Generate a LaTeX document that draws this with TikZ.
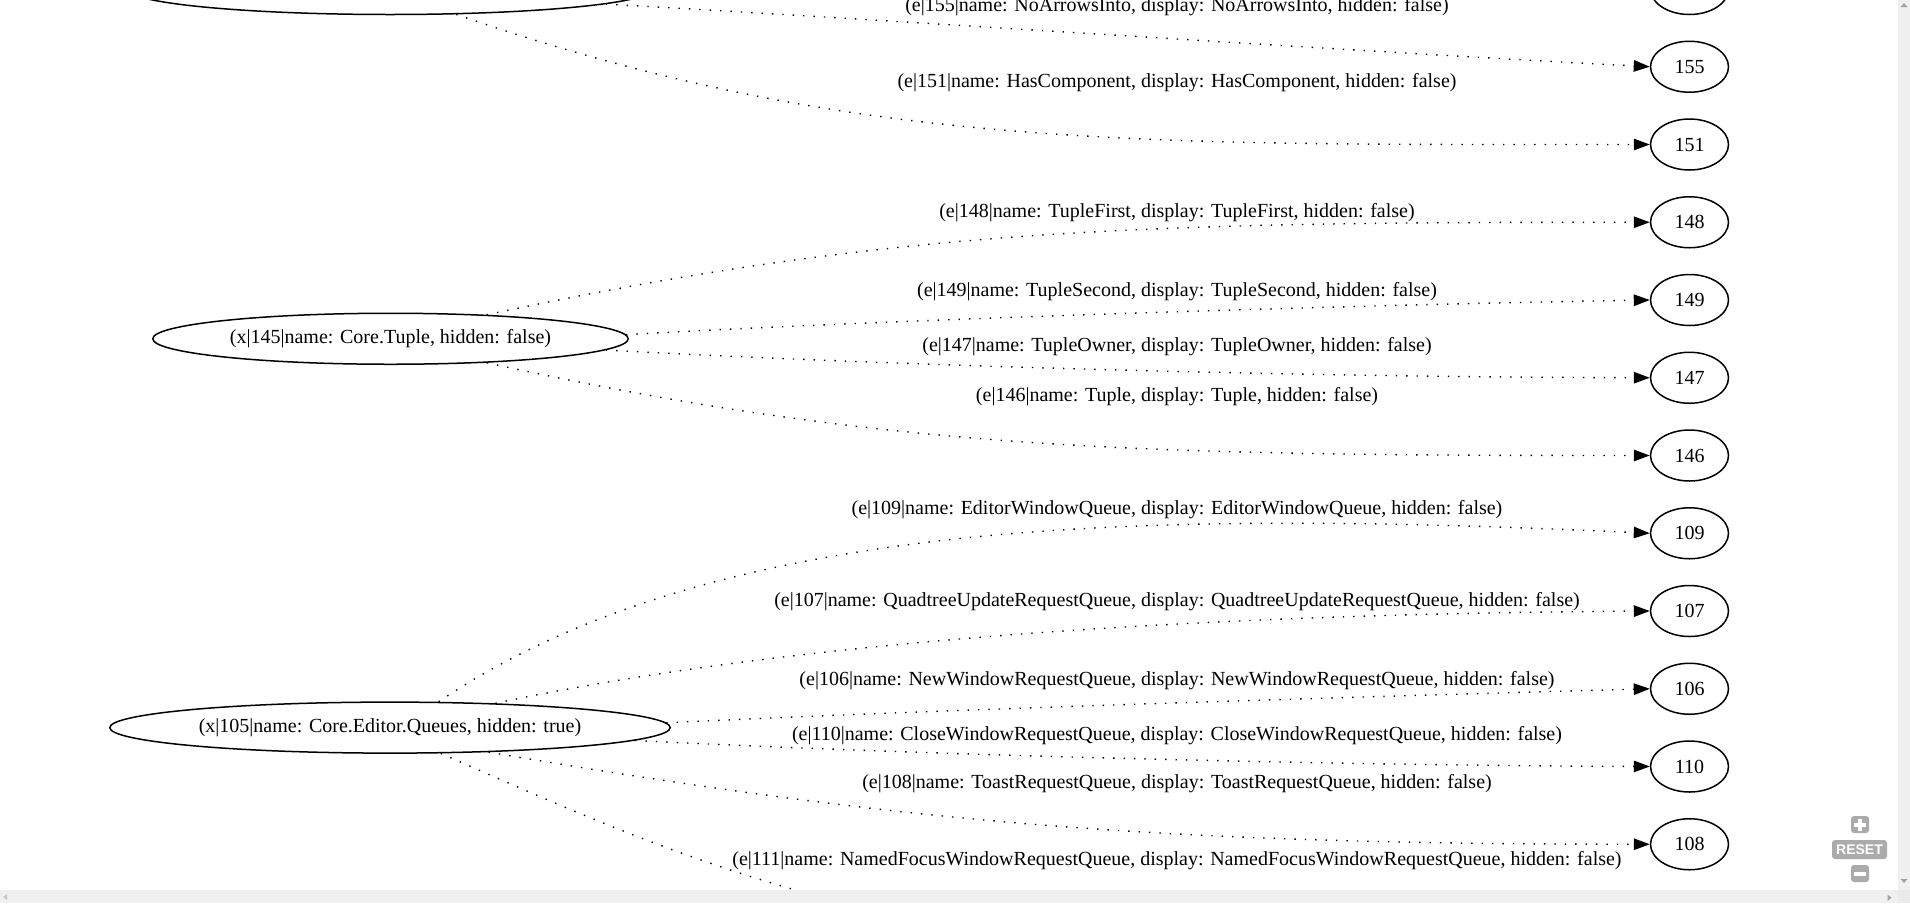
\documentclass[tikz,border=0pt]{standalone}
\usepackage{fontspec}
\setmainfont{Liberation Serif}
\newfontfamily\uisans{Liberation Sans}
\usetikzlibrary{arrows.meta,shapes.geometric}

\definecolor{barbg}{HTML}{F0F0F0}
\definecolor{barcorner}{HTML}{EAEAEA}
\definecolor{bararrow}{HTML}{A3A3A3}
\definecolor{ctrlgray}{HTML}{ABABAB}

\begin{document}
\begin{tikzpicture}[x=1pt,y=-1pt,
  every node/.style={font=\fontsize{20}{24}\selectfont},
  ent/.style={ellipse, draw, line width=1.5pt, inner sep=0pt, minimum height=51pt},
  idnode/.style={ent, minimum width=78pt},
  rel/.style={line width=1.4pt, dash pattern=on 1.4pt off 9pt,
              -{Triangle[length=16pt,width=11.5pt]}},
  elabel/.style={anchor=center, inner sep=0pt},
  ctrlbox/.style={fill=ctrlgray, rounded corners=3pt, inner sep=0pt},
]
\useasboundingbox (0,0) rectangle (1910,903);
\fill[white] (0,0) rectangle (1910,903);

\begin{scope}
\clip (0,0) rectangle (1898,890);

% ---- entity nodes (left column)
\node[ent, minimum width=526pt] (top) at (390,-11) {};
\node[ent, minimum width=475.5pt] (tuple) at (390.5,338.75) {(x|145|name: Core.Tuple, hidden: false)};
\node[ent, minimum width=560.5pt] (queues) at (390,727.6) {(x|105|name: Core.Editor.Queues, hidden: true)};

% ---- id nodes (right column)
\node[idnode] (n0)   at (1689.5,-11)    {};
\node[idnode] (n155) at (1689.5,66.75)  {155};
\node[idnode] (n151) at (1689.5,144.5)  {151};
\node[idnode] (n148) at (1689.5,222.25) {148};
\node[idnode] (n149) at (1689.5,300)    {149};
\node[idnode] (n147) at (1689.5,377.75) {147};
\node[idnode] (n146) at (1689.5,455.5)  {146};
\node[idnode] (n109) at (1689.5,533.25) {109};
\node[idnode] (n107) at (1689.5,611)    {107};
\node[idnode] (n106) at (1689.5,688.75) {106};
\node[idnode] (n110) at (1689.5,766.5)  {110};
\node[idnode] (n108) at (1689.5,844.25) {108};
\node[idnode] (n111) at (1689.5,922)    {};

% ---- edge labels
\node[elabel] (l155) at (1177,7)   {(e|155|name: NoArrowsInto, display: NoArrowsInto, hidden: false)};
\node[elabel] (l151) at (1177,83)  {(e|151|name: HasComponent, display: HasComponent, hidden: false)};
\node[elabel] (l148) at (1177,213) {(e|148|name: TupleFirst, display: TupleFirst, hidden: false)};
\node[elabel] (l149) at (1177,292) {(e|149|name: TupleSecond, display: TupleSecond, hidden: false)};
\node[elabel] (l147) at (1177,347) {(e|147|name: TupleOwner, display: TupleOwner, hidden: false)};
\node[elabel] (l146) at (1177,397) {(e|146|name: Tuple, display: Tuple, hidden: false)};
\node[elabel] (l109) at (1177,510) {(e|109|name: EditorWindowQueue, display: EditorWindowQueue, hidden: false)};
\node[elabel] (l107) at (1177,602) {(e|107|name: QuadtreeUpdateRequestQueue, display: QuadtreeUpdateRequestQueue, hidden: false)};
\node[elabel] (l106) at (1177,681) {(e|106|name: NewWindowRequestQueue, display: NewWindowRequestQueue, hidden: false)};
\node[elabel] (l110) at (1177,736) {(e|110|name: CloseWindowRequestQueue, display: CloseWindowRequestQueue, hidden: false)};
\node[elabel] (l108) at (1177,784) {(e|108|name: ToastRequestQueue, display: ToastRequestQueue, hidden: false)};
\node[elabel] (l111) at (1177,861) {(e|111|name: NamedFocusWindowRequestQueue, display: NamedFocusWindowRequestQueue, hidden: false)};

% ---- edges
\draw[rel] (top.-4.9) .. controls (900,20.5) and (1330,50) .. (n155.west);
\draw[rel] (top.-21)  .. controls (850,150) and (1135,144.5) .. (n151.west);

\draw[rel] (tuple.14)   .. controls (890,229) and (1135,222) .. (n148.west);
\draw[rel] (tuple.1)    .. controls (900,319) and (1350,305) .. (n149.west);
\draw[rel] (tuple.-3.2) .. controls (900,366) and (1300,377) .. (n147.west);
\draw[rel] (tuple.-14)  .. controls (885,450) and (1135,455.5) .. (n146.west);

\draw[rel] (queues.28)    .. controls (715,515) and (1150,510) .. (n109.west);
\draw[rel] (queues.13.5)  .. controls (795,640) and (1200,614) .. (n107.west);
\draw[rel] (queues.1.3)   .. controls (950,709) and (1350,697) .. (n106.west);
\draw[rel] (queues.-3.2)  .. controls (900,754) and (1300,765) .. (n110.west);
\draw[rel] (queues.-14)   .. controls (890,820) and (1135,844) .. (n108.west);
\coordinate (k111) at (900,915);
\draw[rel] (queues.-27.5) .. controls (560,805) and (720,880) .. (k111)
                          .. controls (1000,934) and (1400,922) .. (n111.west);
\end{scope}

% ---- scroll bars
\fill[barbg] (1898,0) rectangle (1910,890);
\fill[barbg] (0,890) rectangle (1898,903);
\fill[barcorner] (1898,890) rectangle (1910,903);
\fill[bararrow] (1900.5,7) -- (1907.5,7) -- (1904,3) -- cycle;
\fill[bararrow] (1900.5,879) -- (1907.5,879) -- (1904,883) -- cycle;
\fill[bararrow] (1887.5,894.5) -- (1887.5,901) -- (1891.5,897.75) -- cycle;
\fill[bararrow!60] (7,894) -- (7,900) -- (3,897) -- cycle;

% ---- zoom controls
\node[ctrlbox, minimum width=18pt, minimum height=17pt] (zoomin) at (1860,824.5) {};
\fill[white] ([xshift=-2pt,yshift=6pt]zoomin.center) rectangle ([xshift=2pt,yshift=-6pt]zoomin.center);
\fill[white] ([xshift=-6pt,yshift=2pt]zoomin.center) rectangle ([xshift=6pt,yshift=-2pt]zoomin.center);
\node[ctrlbox, minimum width=55pt, minimum height=19pt, text=white,
      font=\uisans\bfseries\fontsize{14}{14}\selectfont] (reset) at (1859.5,849.5) {RESET};
\node[ctrlbox, minimum width=18pt, minimum height=17pt] (zoomout) at (1860,873.5) {};
\fill[white] ([xshift=-6pt,yshift=2pt]zoomout.center) rectangle ([xshift=6pt,yshift=-2pt]zoomout.center);
\end{tikzpicture}
\end{document}
